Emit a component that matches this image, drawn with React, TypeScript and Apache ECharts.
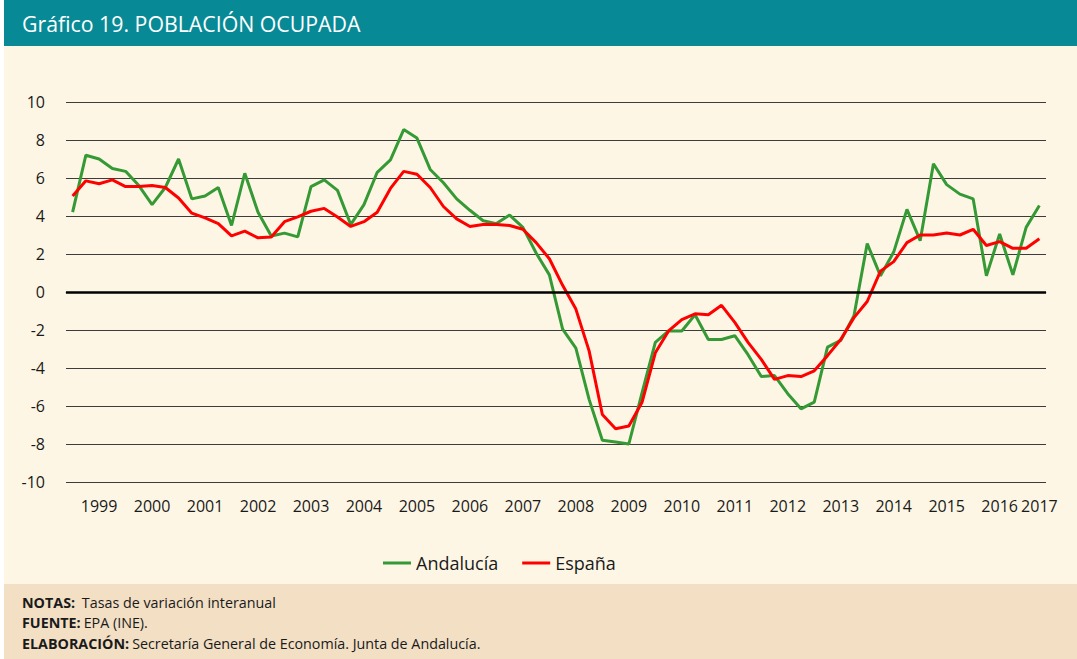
import React, { useEffect, useRef } from "react";
import * as echarts from "echarts";

const YEARS = ["1999","2000","2001","2002","2003","2004","2005","2006","2007","2008","2009","2010","2011","2012","2013","2014","2015","2016","2017"];
const QUARTERS = ["T1","T2","T3","T4"];
const LAST_YEAR_QUARTERS = 2;

const ANDALUCIA = [
  4.2, 7.2, 7.0, 6.5, 6.35, 5.6, 4.6, 5.5, 7.0, 4.9, 5.05, 5.5, 3.5, 6.25, 4.2, 2.95, 3.1, 2.9, 5.55, 5.9, 5.35, 3.55,
  4.6, 6.3, 6.95, 8.55, 8.1, 6.45, 5.75, 4.9, 4.3, 3.75, 3.6, 4.05, 3.4, 2.05, 0.9,
  -1.95, -2.95, -5.65, -7.8, -7.9, -8.0, -5.3, -2.65, -2.05, -2.05, -1.2,
  -2.5, -2.5, -2.3, -3.3, -4.45, -4.4, -5.35, -6.15, -5.8, -2.9, -2.55, -1.25,
  2.55, 0.85, 2.1, 4.35, 2.7, 6.75, 5.65, 5.15, 4.9, 0.85, 3.05, 0.9, 3.4, 4.55,
];

const ESPANA = [
  5.05, 5.85, 5.7, 5.9, 5.55, 5.55, 5.6, 5.5, 4.95, 4.15, 3.9, 3.6, 2.95, 3.2, 2.85, 2.9, 3.7, 3.95, 4.25, 4.4, 3.95, 3.45,
  3.7, 4.2, 5.45, 6.35, 6.2, 5.5, 4.5, 3.85, 3.45, 3.55, 3.55, 3.5, 3.3, 2.6, 1.75,
  0.35, -0.9, -3.1, -6.45, -7.2, -7.05, -5.8, -3.2, -2.05, -1.45, -1.15,
  -1.2, -0.7, -1.6, -2.65, -3.55, -4.6, -4.4, -4.45, -4.15, -3.35, -2.5, -1.35,
  -0.5, 1.1, 1.6, 2.6, 3.0, 3.0, 3.1, 3.0, 3.3, 2.45, 2.65, 2.3, 2.3, 2.8,
];

const SERIES_NAMES = ["Andalucía", "España"];
const Y_MIN = -10;
const Y_MAX = 10;
const Y_STEP = 2;

const TITLE = "Gráfico 19. POBLACIÓN OCUPADA";
const NOTES = [
  ["NOTAS:", " Tasas de variación interanual"],
  ["FUENTE:", "EPA (INE)."],
  ["ELABORACIÓN:", "Secretaría General de Economía. Junta de Andalucía."],
];

const CATEGORIES: string[] = [];
YEARS.forEach((y, yi) => {
  const qs = yi === YEARS.length - 1 ? QUARTERS.slice(0, LAST_YEAR_QUARTERS) : QUARTERS;
  qs.forEach((q) => CATEGORIES.push(`${y}-${q}`));
});

const FONT = "'Open Sans', sans-serif";

export default function App() {
  const ref = useRef<HTMLDivElement>(null);
  useEffect(() => {
    if (!ref.current) return;
    const chart = echarts.init(ref.current, null, { renderer: "svg" });
    const lastIdx = CATEGORIES.length - 1;
    const noteGraphics = NOTES.map((n, i) => ({
      type: "text",
      left: 22,
      top: 595 + i * 20.5,
      style: {
        text: `{b|${n[0]}}{r|${n[1]}}`,
        rich: {
          b: { fontWeight: "bold", fontSize: 14.3, fontFamily: FONT, fill: "#1a1a1a", padding: [0, 3, 0, 0] },
          r: { fontSize: 14.3, fontFamily: FONT, fill: "#1a1a1a" },
        },
        fill: "#1a1a1a",
        font: `14.3px ${FONT}`,
      },
    }));
    chart.setOption({
      animation: false,
      backgroundColor: "#FDF6E4",
      textStyle: { fontFamily: FONT },
      graphic: [
        { type: "rect", left: 0, top: 0, shape: { width: 4, height: 659 }, style: { fill: "#ffffff" } },
        { type: "rect", left: 4, top: 0, shape: { width: 1073, height: 46 }, style: { fill: "#078A96" } },
        { type: "rect", left: 4, top: 584, shape: { width: 1073, height: 75 }, style: { fill: "#F2DFC4" } },
        {
          type: "text",
          left: 22,
          top: 13,
          style: { text: TITLE, fill: "#ffffff", font: `21.3px ${FONT}` },
        },
        ...noteGraphics,
      ],
      legend: {
        data: SERIES_NAMES,
        left: 378,
        top: 549,
        icon: "rect",
        itemWidth: 28,
        itemHeight: 3,
        itemGap: 24,
        textStyle: { fontSize: 18, color: "#1a1a1a", fontFamily: FONT },
      },
      grid: { left: 66, right: 31, top: 102, bottom: 177, containLabel: false },
      xAxis: {
        type: "category",
        data: CATEGORIES,
        boundaryGap: true,
        axisLine: { lineStyle: { color: "#8c8c8c", width: 1 } },
        axisTick: {
          interval: (i: number) => i % 4 === 0,
          length: 6,
          lineStyle: { color: "#8c8c8c" },
        },
        axisLabel: {
          interval: (i: number) => (i % 4 === 2 && i < lastIdx - 1) || i === lastIdx,
          formatter: (v: string) => v.slice(0, 4),
          margin: 16,
          fontSize: 16,
          color: "#1a1a1a",
          fontFamily: FONT,
        },
        splitLine: { show: false },
      },
      yAxis: {
        type: "value",
        min: Y_MIN,
        max: Y_MAX,
        interval: Y_STEP,
        axisLine: { show: false },
        axisTick: { show: false },
        axisLabel: { margin: 21, fontSize: 16, color: "#1a1a1a", fontFamily: FONT },
        splitLine: { lineStyle: { color: "#3c3c3c", width: 1 } },
      },
      series: [
        {
          name: SERIES_NAMES[0],
          type: "line",
          data: ANDALUCIA,
          symbol: "none",
          lineStyle: { color: "#359A35", width: 3 },
          itemStyle: { color: "#359A35" },
          markLine: {
            silent: true,
            symbol: "none",
            label: { show: false },
            lineStyle: { color: "#000000", width: 2.5, type: "solid" },
            data: [{ yAxis: 0 }],
          },
        },
        {
          name: SERIES_NAMES[1],
          type: "line",
          data: ESPANA,
          symbol: "none",
          lineStyle: { color: "#FF0000", width: 3 },
          itemStyle: { color: "#FF0000" },
        },
      ],
    });
    return () => chart.dispose();
  }, []);
  return <div ref={ref} style={{ position: "fixed", left: 0, top: 0, width: 1077, height: 659 }} />;
}
